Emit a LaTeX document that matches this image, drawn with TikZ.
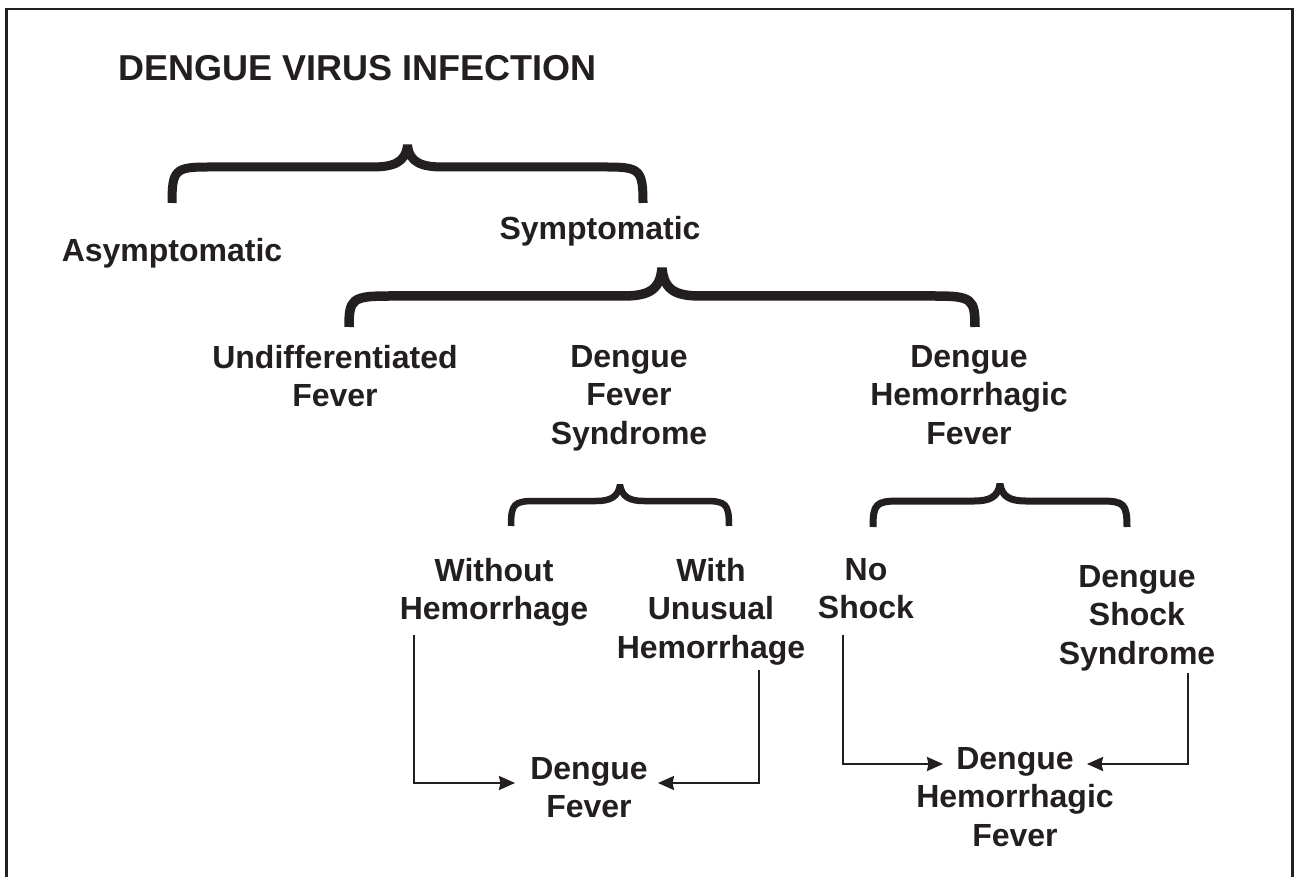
\documentclass[tikz,border=0pt]{standalone}
\usepackage{fontspec}
\setmainfont{Liberation Sans}
\usetikzlibrary{arrows.meta}
\definecolor{ink}{RGB}{35,31,32}
% #1 left x, #2 right x, #3 tip y, #4 flat y, #5 bottom y, #6 corner radius, #7 tip half-width, #8 line width
\newcommand{\dbrace}[8]{%
  \draw[ink, line width=#8, line join=miter, miter limit=2.5]
    (#1,#5) .. controls (#1,{#4+3}) and ({#1+3},#4) .. ({#1+#6},#4)
    -- ({(#1+#2)/2-#7},#4)
    .. controls ({(#1+#2)/2-0.4*#7},#4) and ({(#1+#2)/2-2},{#4-4}) .. ({(#1+#2)/2},#3)
    .. controls ({(#1+#2)/2+2},{#4-4}) and ({(#1+#2)/2+0.4*#7},#4) .. ({(#1+#2)/2+#7},#4)
    -- ({#2-#6},#4)
    .. controls ({#2-3},#4) and (#2,{#4+3}) .. (#2,#5);}
\begin{document}
\begin{tikzpicture}[x=1pt,y=-1pt,
  lbl/.style={font=\fontsize{32}{38.5}\selectfont\bfseries, align=center, inner sep=0pt, text=ink, anchor=north},
  ttl/.style={font=\fontsize{36}{43}\selectfont\bfseries, inner sep=0pt, text=ink, anchor=north west},
  arr/.style={ink, line width=2.2pt, -{Stealth[length=16pt,width=14pt,inset=1.5pt]}}]
\useasboundingbox (0,0) rectangle (1299,877);
\fill[white] (0,0) rectangle (1299,877);
\draw[ink, line width=2.8pt] (6.5,890) -- (6.5,9) -- (1292.5,9) -- (1292.5,890);

\node[ttl] (title) at (118,55) {DENGUE VIRUS INFECTION};

\node[lbl] (asym) at (172,238) {Asymptomatic};
\node[lbl] (sym) at (600,216) {Symptomatic};
\node[lbl] (undiff) at (335,345) {Undifferentiated\\Fever};
\node[lbl] (dfs) at (629,345) {Dengue\\Fever\\Syndrome};
\node[lbl] (dhf) at (969,345) {Dengue\\Hemorrhagic\\Fever};
\node[lbl] (woh) at (494,558) {Without\\Hemorrhage};
\node[lbl] (wuh) at (711,558) {With\\Unusual\\Hemorrhage};
\node[lbl] (nos) at (866,558) {No\\Shock};
\node[lbl] (dss) at (1137,565) {Dengue\\Shock\\Syndrome};
\node[lbl] (df) at (589,757) {Dengue\\Fever};
\node[lbl] (dhf2) at (1015,747) {Dengue\\Hemorrhagic\\Fever};

% braces
\dbrace{172}{643}{145}{167}{203}{36}{36}{9pt}
\dbrace{349}{975}{268}{296}{327}{40}{40}{9.5pt}
\dbrace{511}{729}{485}{501}{526}{24}{24}{6.5pt}
\dbrace{873}{1127}{484}{501}{527}{26}{26}{7pt}

% arrows
\coordinate (s1) at (414,635);
\coordinate (e1) at (515,783);
\coordinate (s2) at (759,670);
\coordinate (e2) at (658,783);
\coordinate (s3) at (843,635);
\coordinate (e3) at (943,764);
\coordinate (s4) at (1188,673);
\coordinate (e4) at (1087,764);
\draw[arr] (s1) |- (e1);
\draw[arr] (s2) |- (e2);
\draw[arr] (s3) |- (e3);
\draw[arr] (s4) |- (e4);
\end{tikzpicture}
\end{document}
